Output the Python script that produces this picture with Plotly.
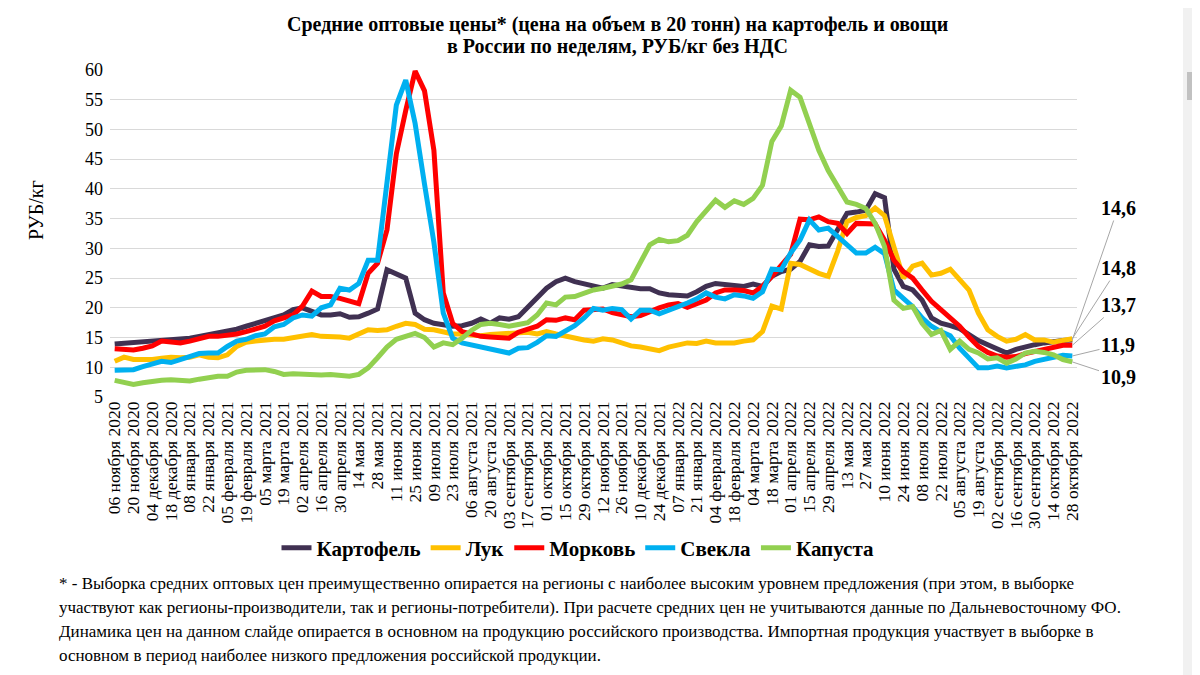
import plotly.graph_objects as go

# ---------------- data ----------------
tick_labels = [
    "06 ноября 2020", "20 ноября 2020", "04 декабря 2020", "18 декабря 2020",
    "08 января 2021", "22 января 2021", "05 февраля 2021", "19 февраля 2021",
    "05 марта 2021", "19 марта 2021", "02 апреля 2021", "16 апреля 2021",
    "30 апреля 2021", "14 мая 2021", "28 мая 2021", "11 июня 2021",
    "25 июня 2021", "09 июля 2021", "23 июля 2021", "06 августа 2021",
    "20 августа 2021", "03 сентября 2021", "17 сентября 2021", "01 октября 2021",
    "15 октября 2021", "29 октября 2021", "12 ноября 2021", "26 ноября 2021",
    "10 декабря 2021", "24 декабря 2021", "07 января 2022", "21 января 2022",
    "04 февраля 2022", "18 февраля 2022", "04 марта 2022", "18 марта 2022",
    "01 апреля 2022", "15 апреля 2022", "29 апреля 2022", "13 мая 2022",
    "27 мая 2022", "10 июня 2022", "24 июня 2022", "08 июля 2022",
    "22 июля 2022", "05 августа 2022", "19 августа 2022", "02 сентября 2022",
    "16 сентября 2022", "30 сентября 2022", "14 октября 2022", "28 октября 2022",
]

potato = [
    13.9, 14.0, 14.1, 14.4, 14.5, 14.6, 14.7, 14.8, 14.9, 15.2,
    15.5, 15.7, 16.0, 16.4, 16.9, 17.4, 17.7, 18.3, 18.8, 19.7,
    20.0, 19.4, 18.8, 18.8, 19.0, 18.4, 18.5, 19.1, 19.8, 26.4,
    25.6, 25.0, 19.1, 18.0, 17.4, 17.2, 16.9, 17.0, 17.4, 18.1,
    17.4, 18.3, 18.1, 18.5, 20.2, 21.9, 23.3, 24.4, 25.0, 24.4,
    24.1, 23.7, 23.3, 23.9, 23.6, 23.3, 23.2, 23.2, 22.5, 22.2,
    22.2, 22.0, 22.7, 23.6, 24.1, 23.9, 23.9, 23.6, 24.0, 23.6,
    25.3, 26.1, 26.5, 27.8, 30.6, 30.3, 30.4, 33.1, 35.9, 36.1,
    36.4, 39.2, 38.5, 26.5, 23.6, 23.0, 21.3, 18.3, 17.4, 17.0,
    16.5, 15.5, 14.5, 13.8, 13.0, 12.4, 13.0, 13.5, 13.8, 14.1,
    14.4, 14.5, 14.6,
]

onion = [
    11.0, 11.7, 11.3, 11.2, 11.3, 11.5, 11.7, 11.6, 11.7, 12.1,
    11.7, 11.6, 12.1, 13.5, 14.2, 14.4, 14.6, 14.7, 14.7, 14.9,
    15.2, 15.5, 15.2, 15.2, 15.1, 14.9, 15.5, 16.3, 16.2, 16.3,
    16.9, 17.4, 17.2, 16.4, 16.3, 16.0, 15.6, 15.6, 15.5, 15.3,
    15.5, 15.6, 15.5, 15.8, 15.9, 15.6, 16.0, 15.6, 15.2, 14.9,
    14.6, 14.4, 14.8, 14.6, 14.1, 13.6, 13.4, 13.1, 12.8, 13.4,
    13.8, 14.1, 14.0, 14.4, 14.1, 14.0, 14.1, 14.4, 14.6, 16.0,
    20.3, 19.8, 27.5, 27.3, 26.5, 25.8, 25.3, 29.5, 34.5, 35.2,
    35.5, 36.8, 35.5, 30.5, 25.0, 27.0, 27.5, 25.5, 25.8, 26.5,
    24.7, 23.0, 19.1, 16.3, 15.2, 14.4, 14.7, 15.5, 14.6, 14.6,
    14.2, 14.5, 14.8,
]

carrot = [
    13.1, 13.0, 12.9, 13.2, 13.6, 14.4, 14.2, 14.1, 14.4, 14.7,
    15.2, 15.2, 15.3, 15.6, 16.0, 16.4, 16.9, 17.8, 18.2, 18.8,
    20.3, 22.8, 21.9, 21.9, 21.6, 21.1, 20.7, 25.8, 27.5, 33.1,
    45.9, 53.2, 59.8, 56.5, 46.5, 22.5, 17.4, 16.0, 15.5, 15.2,
    15.1, 15.1, 14.9, 15.9, 16.4, 16.9, 18.0, 17.9, 18.3, 18.0,
    19.6, 19.8, 19.8, 19.2, 18.8, 18.5, 18.7, 19.4, 20.0, 20.5,
    20.7, 20.1, 20.7, 21.3, 22.5, 23.0, 23.0, 22.9, 22.5, 23.6,
    25.3, 27.0, 29.0, 34.9, 34.8, 35.3, 34.5, 34.2, 32.5, 34.2,
    34.2, 34.1, 31.4, 28.0, 26.1, 25.0, 23.0, 21.1, 19.7, 18.3,
    16.9, 15.1, 13.5, 12.5, 11.9, 11.7, 11.8, 12.3, 12.7, 13.1,
    13.5, 13.7, 13.7,
]

beet = [
    9.5, 9.5, 9.6, 10.1, 10.6, 11.0, 10.8, 11.3, 11.6, 12.3,
    12.4, 12.4, 13.5, 14.4, 14.7, 15.3, 15.6, 16.8, 17.2, 18.3,
    18.8, 18.6, 20.0, 20.5, 23.3, 23.0, 24.1, 28.0, 28.0, 41.0,
    54.1, 58.3, 51.0, 40.8, 31.0, 19.1, 14.9, 14.1, 13.8, 13.5,
    13.2, 12.8, 12.4, 13.2, 13.3, 14.2, 15.3, 15.2, 16.2, 17.0,
    18.3, 19.9, 19.6, 19.9, 19.7, 18.1, 19.6, 19.6, 19.0, 19.7,
    20.2, 20.8, 21.5, 22.5, 21.8, 21.5, 22.2, 22.0, 21.6, 22.7,
    26.5, 26.4, 29.2, 31.4, 34.8, 33.1, 33.4, 32.0, 30.6, 29.2,
    29.2, 30.2, 29.1, 23.0, 21.6, 20.2, 18.3, 16.9, 16.0, 15.3,
    13.2, 11.6, 9.9, 9.9, 10.2, 9.9, 10.1, 10.4, 11.0, 11.3,
    11.7, 12.0, 11.9,
]

cabbage = [
    7.8, 7.5, 7.1, 7.4, 7.7, 7.8, 7.9, 7.8, 7.7, 8.0,
    8.3, 8.5, 8.5, 9.2, 9.5, 9.6, 9.6, 9.3, 8.8, 8.9,
    8.8, 8.8, 8.7, 8.8, 8.7, 8.5, 8.8, 9.9, 11.6, 13.4,
    14.7, 15.3, 15.7, 15.0, 13.4, 14.1, 13.8, 14.9, 16.2, 17.2,
    17.4, 17.2, 16.9, 17.2, 17.5, 18.8, 20.8, 20.5, 21.8, 21.9,
    22.5, 23.0, 23.3, 23.6, 24.0, 24.7, 27.5, 30.6, 31.5, 31.1,
    31.3, 32.2, 34.5, 36.4, 38.1, 36.9, 38.0, 37.4, 38.4, 40.6,
    48.0, 50.6, 56.6, 55.4, 50.9, 46.5, 43.1, 40.3, 37.8, 37.4,
    36.7, 34.2, 30.3, 21.3, 19.9, 20.2, 17.4, 15.5, 16.2, 13.0,
    14.4, 13.0, 12.4, 11.4, 11.6, 10.7, 11.4, 12.4, 12.7, 12.5,
    12.1, 11.3, 10.9,
]

series_names = ["Картофель", "Лук", "Морковь", "Свекла", "Капуста"]
series_colors = ["#403152", "#FFC000", "#FF0000", "#00B0F0", "#92D050"]
last_labels = ["14,6", "14,8", "13,7", "11,9", "10,9"]

footnote_lines = [
    "* - Выборка средних оптовых цен преимущественно опирается на регионы с наиболее высоким уровнем предложения (при этом, в выборке",
    "участвуют как регионы-производители, так и регионы-потребители). При расчете средних цен не учитываются данные по Дальневосточному ФО.",
    "Динамика цен на данном слайде опирается в основном на продукцию российского производства. Импортная продукция участвует в выборке в",
    "основном в период наиболее низкого предложения российской продукции.",
]

# ---------------- figure ----------------
SERIF = "Liberation Serif"
all_series = [potato, onion, carrot, beet, cabbage]
n = len(potato)
xs = list(range(n))

# plot area in screen pixels; the page body adds an 8px offset
OFF = 8
L, R, T, B = 110, 1077, 70, 397
W, H = 1200, 675
pw, ph = R - L, B - T


def px(xp):
    return (xp - L) / pw


def py(yp):
    return (B - yp) / ph


fig = go.Figure()
for name, vals, col in zip(series_names, all_series, series_colors):
    fig.add_trace(go.Scatter(
        x=xs, y=vals, name=name, mode="lines",
        line=dict(color=col, width=5, shape="linear"),
        hoverinfo="name+y",
    ))

annotations = []
# title
for txt, yy in [("Средние оптовые цены* (цена на объем в 20 тонн) на картофель и овощи", 25),
                ("в России по неделям, РУБ/кг без НДС", 47)]:
    annotations.append(dict(
        text="<b>" + txt + "</b>",
        x=px(617), y=py(yy), xref="paper", yref="paper", showarrow=False,
        xanchor="center", yanchor="middle", font=dict(family=SERIF, size=20, color="black")))
# y axis title
annotations.append(dict(
    text="РУБ/кг", x=px(36), y=py(210), xref="paper", yref="paper", showarrow=False,
    textangle=-90, xanchor="center", yanchor="middle",
    font=dict(family=SERIF, size=20, color="black")))

# end labels with leader lines
label_y_px = [208, 268, 305, 345, 377]
last_x_px = L + (xs[-1] + 0.5) / n * pw
for vals, lab, lyp in zip(all_series, last_labels, label_y_px):
    yv = vals[-1]
    point_py = T + (60 - yv) / 55 * ph
    annotations.append(dict(
        text="<b>" + lab + "</b>", x=xs[-1], y=yv, xref="x", yref="y",
        showarrow=True, arrowhead=0, arrowwidth=1, arrowcolor="#a6a6a6",
        ax=1118 - last_x_px, ay=lyp - point_py,
        xanchor="center", yanchor="middle", standoff=0,
        font=dict(family=SERIF, size=20, color="black")))

# footnote
for i, line in enumerate(footnote_lines):
    annotations.append(dict(
        text=line, x=px(57), y=py(583 + 24 * i), xref="paper", yref="paper",
        showarrow=False, xanchor="left", yanchor="middle", align="left",
        font=dict(family=SERIF, size=17, color="black")))

shapes = [
    # scrollbar of the screenshot
    dict(type="rect", xref="paper", yref="paper", x0=px(1183), x1=px(1200),
         y0=py(683), y1=py(0), fillcolor="#f1f1f1", line=dict(width=0), layer="below"),
    dict(type="rect", xref="paper", yref="paper", x0=px(1187), x1=px(1196),
         y0=py(100), y1=py(72), fillcolor="#c1c1c1", line=dict(width=0), layer="below"),
]

fig.update_layout(
    width=W, height=H,
    margin=dict(l=L - OFF, r=W - (R - OFF), t=T - OFF, b=H - (B - OFF), pad=0),
    paper_bgcolor="white", plot_bgcolor="white",
    font=dict(family=SERIF, color="black"),
    showlegend=True,
    legend=dict(
        orientation="h", x=px(578), y=py(548), xanchor="center", yanchor="middle",
        font=dict(family=SERIF, size=21, color="black", weight="bold"),
        itemwidth=30, traceorder="normal", bgcolor="rgba(0,0,0,0)",
    ),
    xaxis=dict(
        range=[-0.5, n - 0.5], tickmode="array",
        tickvals=xs[::2], ticktext=tick_labels, tickangle=-90,
        tickfont=dict(family=SERIF, size=17.5, color="black"),
        showgrid=False, zeroline=False, showline=False, ticks="",
        fixedrange=True,
    ),
    yaxis=dict(
        range=[5, 60], tickmode="array", tickvals=list(range(5, 61, 5)),
        tickfont=dict(family=SERIF, size=18, color="black"),
        showgrid=True, gridcolor="#d9d9d9", gridwidth=1,
        zeroline=False, showline=False, ticks="", ticklabelstandoff=6,
        fixedrange=True,
    ),
    annotations=annotations,
    shapes=shapes,
)

fig.write_html("out.html")
